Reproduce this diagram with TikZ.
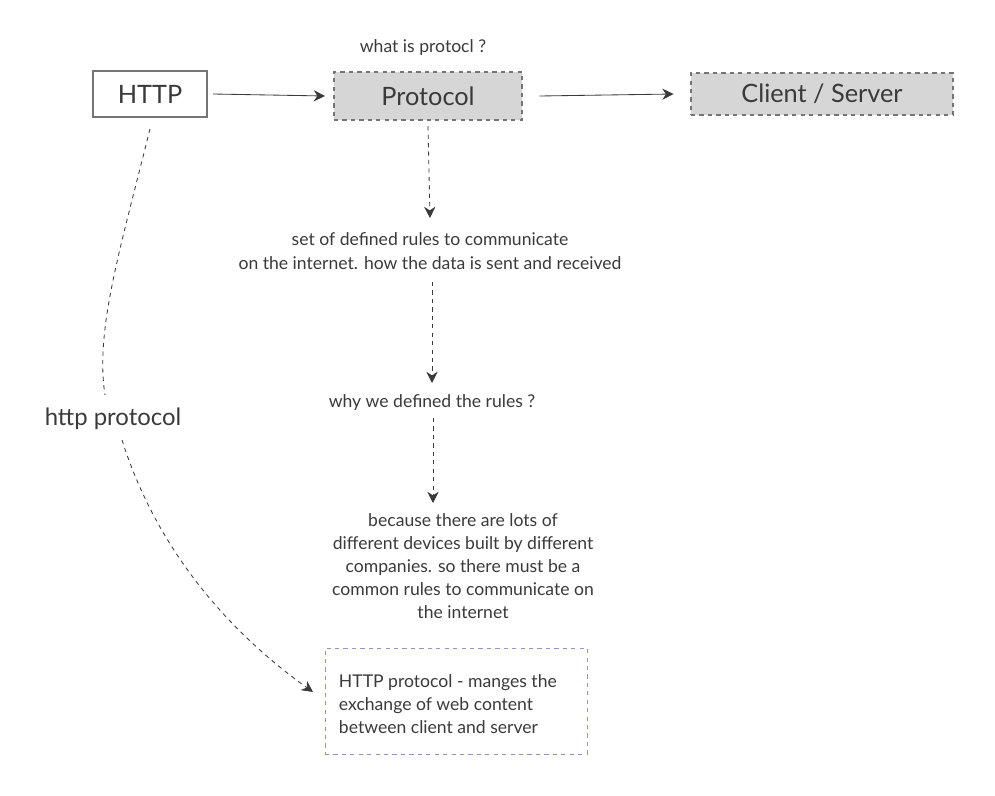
\documentclass[tikz,border=0pt]{standalone}
\usepackage{fontspec}
\setmainfont{Lato}
\usepackage{tikz}
\usetikzlibrary{shapes, arrows.meta, positioning}
\definecolor{ink}{HTML}{3A3A3A}
\definecolor{boxgray}{HTML}{D6D6D6}
\definecolor{lilac}{HTML}{9B87E6}
\begin{document}
\begin{tikzpicture}[
        x=0.025cm, y=-0.025cm,
        every node/.style={text=ink, align=center, font=\fontsize{12.5}{16.5}\selectfont},
        box/.style={draw=ink!70, line width=0.8pt, minimum height=1.15cm, font=\fontsize{18}{20}\selectfont},
        topic/.style={box, dashed, fill=boxgray},
        arrow/.style={-{Stealth[length=8pt, width=8pt]}, line width=0.6pt, color=ink},
        dasharrow/.style={arrow, dashed}
    ]
        \useasboundingbox (0,0) rectangle (995,796);

        % Top row
        \node[box, fill=white, minimum width=2.85cm] (http) at (150,94) {HTTP};
        \node[topic, minimum width=4.7cm, minimum height=1.2cm] (proto) at (428,96) {Protocol};
        \node[topic, minimum width=6.55cm, minimum height=1.05cm] (cs) at (822,94) {Client / Server};
        \node (what) at (423,48) {what is protocl ?};

        % Middle chain
        \node (rules) at (430,251) {set of defined rules to communicate\\on the internet. how the data is sent and received};
        \node (why) at (432,403) {why we defined the rules ?};
        \node (because) at (463,566) {because there are lots of\\different devices built by different\\companies. so there must be a\\common rules to communicate on\\the internet};
        \node[draw=lilac, dashed, line width=0.6pt, minimum width=6.55cm, minimum height=2.65cm] (httpdef) at (456,701) {};
        \node[anchor=west, align=left] (deftext) at (334,704)
            {HTTP protocol - manges the\\exchange of web content\\between client and server};
        \node[font=\fontsize{17}{19}\selectfont] (label) at (113,419) {http protocol};

        % Connectors
        \draw[arrow] ([xshift=4pt]http.east) -- ([xshift=-6pt]proto.west);
        \draw[arrow] ([xshift=12pt]proto.east) -- ([xshift=-12pt]cs.west);
        \draw[dasharrow] ([yshift=-4pt]proto.south) -- (430,218);
        \draw[dasharrow] (432,282) -- (432,383);
        \draw[dasharrow] (433,418) -- (433,503);
        \draw[dashed, line width=0.6pt, color=ink] ([yshift=-8pt]http.south) .. controls (120,250) and (95,330) .. (105,395);
        \draw[dasharrow] (122,440) .. controls (160,560) and (240,640) .. (313,692);

    \end{tikzpicture}
\end{document}
